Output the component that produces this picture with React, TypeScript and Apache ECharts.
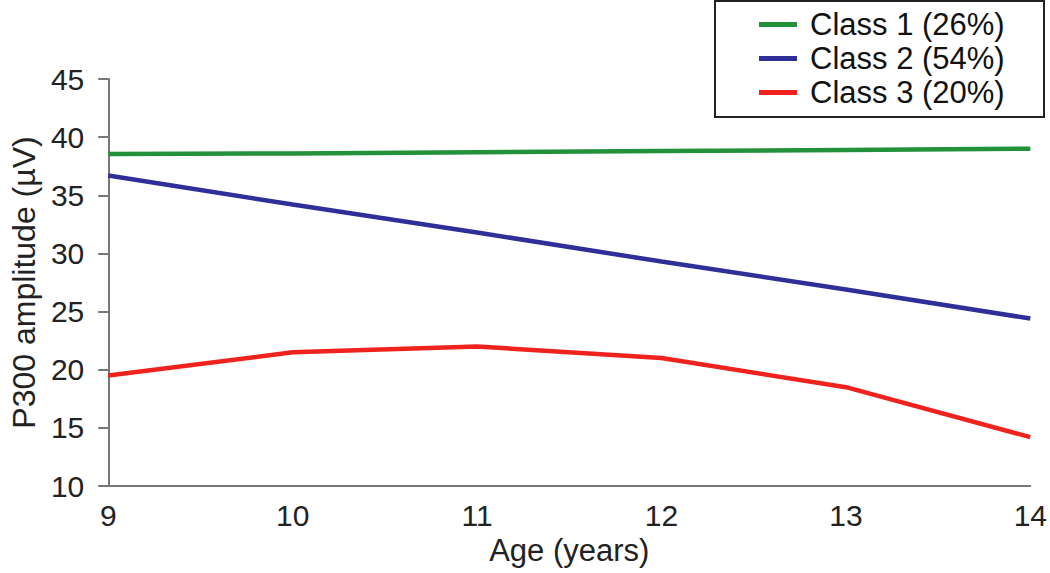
import React, { useEffect, useRef } from "react";
import * as echarts from "echarts";

const ages = [9, 10, 11, 12, 13, 14];
const class1 = [38.55, 38.6, 38.7, 38.8, 38.9, 39.0];
const class2 = [36.7, 34.2, 31.8, 29.3, 26.9, 24.4];
const class3 = [19.5, 21.5, 22.0, 21.0, 18.5, 14.2];
const seriesNames = ["Class 1 (26%)", "Class 2 (54%)", "Class 3 (20%)"];
const seriesColors = ["#22913a", "#2f2f99", "#f0221e"];

const FONT = "'Liberation Sans', Arial, Helvetica, sans-serif";

export default function App() {
  const ref = useRef<HTMLDivElement>(null);
  useEffect(() => {
    if (!ref.current) return;
    const chart = echarts.init(ref.current, null, { renderer: "svg" });
    const values = [class1, class2, class3];
    chart.setOption({
      animation: false,
      backgroundColor: "#ffffff",
      textStyle: { fontFamily: FONT },
      grid: { left: 106, right: 17, top: 79, bottom: 87 },
      xAxis: {
        type: "value",
        min: 9,
        max: 14,
        interval: 1,
        name: "Age (years)",
        nameLocation: "middle",
        nameGap: 47,
        nameTextStyle: { fontSize: 31, color: "#222", fontFamily: FONT },
        axisLine: { show: true, lineStyle: { color: "#777", width: 2 } },
        axisTick: { show: false },
        splitLine: { show: false },
        axisLabel: { fontSize: 30, color: "#222", margin: 14, fontFamily: FONT },
      },
      yAxis: {
        type: "value",
        min: 10,
        max: 45,
        interval: 5,
        name: "P300 amplitude (µV)",
        nameLocation: "middle",
        nameGap: 68,
        nameTextStyle: { fontSize: 32, color: "#222", fontFamily: FONT },
        axisLine: { show: true, lineStyle: { color: "#777", width: 2 } },
        axisTick: { show: true, length: 10, lineStyle: { color: "#777", width: 2 } },
        splitLine: { show: false },
        axisLabel: { fontSize: 30, color: "#222", margin: 24, fontFamily: FONT },
      },
      legend: {
        orient: "vertical",
        left: 759,
        top: 9,
        icon: "rect",
        itemWidth: 38,
        itemHeight: 5,
        itemGap: 3,
        padding: 0,
        textStyle: { fontSize: 31, color: "#111", fontFamily: FONT, padding: [0, 0, 0, 8] },
        data: seriesNames,
      },
      graphic: [
        {
          type: "rect",
          left: 714,
          top: 0,
          z: -1,
          shape: { width: 329, height: 116 },
          style: { fill: "#fff", stroke: "#222", lineWidth: 2 },
        },
      ],
      series: seriesNames.map((name, i) => ({
        name,
        type: "line",
        data: ages.map((a, j) => [a, values[i][j]]),
        showSymbol: false,
        symbol: "none",
        lineStyle: { color: seriesColors[i], width: 4.5 },
        itemStyle: { color: seriesColors[i] },
      })),
    });
    return () => chart.dispose();
  }, []);
  return (
    <div
      ref={ref}
      style={{ position: "fixed", left: 0, top: 0, width: 1050, height: 573 }}
    />
  );
}
